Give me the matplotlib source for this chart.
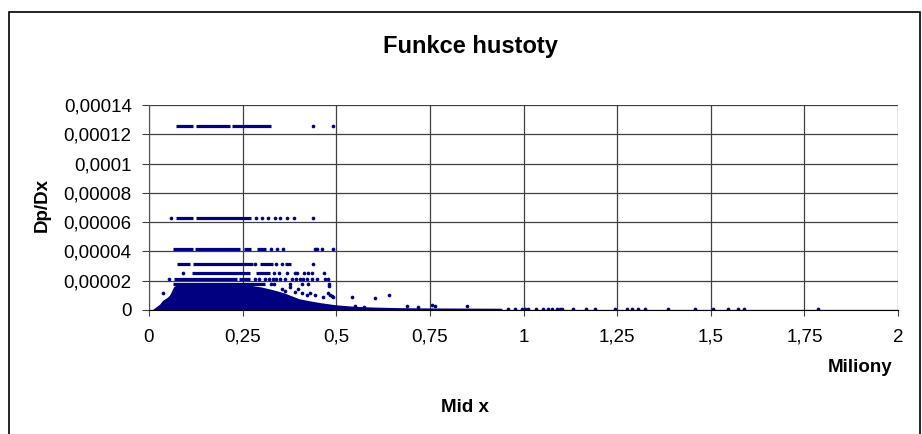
import matplotlib

matplotlib.use("Agg")

import matplotlib.pyplot as plt
from matplotlib.patches import Rectangle

plt.rcParams["font.family"] = ["Liberation Sans", "DejaVu Sans"]

NAVY = "#000080"

# dense part of the cloud: upper envelope (x in millions)
cloud_x = [0.012, 0.02, 0.03, 0.038, 0.05, 0.058, 0.068, 0.08, 0.12, 0.16, 0.2, 0.24,
           0.27, 0.3, 0.32, 0.34, 0.36, 0.38, 0.4, 0.43, 0.46, 0.5, 0.55, 0.6,
           0.65, 0.7, 0.75, 0.85, 0.94]
cloud_top = [0.0, 0.15e-5, 0.34e-5, 0.6e-5, 0.8e-5, 1.0e-5, 1.55e-5, 1.72e-5, 1.75e-5,
             1.75e-5, 1.75e-5, 1.7e-5, 1.62e-5, 1.5e-5, 1.38e-5, 1.25e-5, 1.1e-5,
             0.9e-5, 0.7e-5, 0.55e-5, 0.42e-5, 0.28e-5, 0.18e-5, 0.13e-5, 0.1e-5,
             0.08e-5, 0.07e-5, 0.06e-5, 0.05e-5]

# horizontal runs of packed points: level, start, end
band_y = [1.26e-4, 1.26e-4, 1.26e-4,
          6.3e-5, 6.3e-5,
          4.2e-5, 4.2e-5, 4.2e-5, 4.2e-5,
          3.15e-5, 3.15e-5, 3.15e-5, 3.15e-5,
          2.52e-5, 2.52e-5,
          2.1e-5, 2.1e-5,
          1.8e-5]
band_x0 = [0.071, 0.125, 0.222,
           0.072, 0.125,
           0.063, 0.123, 0.254, 0.288,
           0.076, 0.118, 0.296, 0.363,
           0.114, 0.286,
           0.068, 0.241,
           0.065]
band_x1 = [0.118, 0.216, 0.325,
           0.118, 0.272,
           0.118, 0.243, 0.272, 0.312,
           0.110, 0.277, 0.330, 0.378,
           0.270, 0.323,
           0.234, 0.270,
           0.310]

# single points on the same levels
lvl_126 = [0.439, 0.492]
lvl_63 = [0.059, 0.286, 0.301, 0.317, 0.336, 0.350, 0.368, 0.387, 0.439]
lvl_42 = [0.326, 0.341, 0.359, 0.443, 0.448, 0.461, 0.490]
lvl_315 = [0.283, 0.339, 0.354, 0.439]
lvl_252 = [0.090, 0.334, 0.348, 0.368, 0.390, 0.394, 0.415, 0.424, 0.436, 0.468]
lvl_21 = [0.054, 0.283, 0.295, 0.310, 0.321, 0.330, 0.339, 0.350, 0.363, 0.381,
          0.393, 0.403, 0.412, 0.421, 0.434, 0.448, 0.470, 0.479]
lvl_18 = [0.326, 0.335, 0.376, 0.408, 0.425, 0.481]

# loose points around the cloud
loose_x = [0.481, 0.038, 0.061, 0.354, 0.363, 0.376, 0.390, 0.399, 0.408, 0.421,
           0.430, 0.443, 0.465, 0.479, 0.488, 0.483, 0.492, 0.541, 0.603, 0.642,
           0.688, 0.719, 0.755, 0.764, 0.848, 0.55, 0.575]
loose_y = [1.64e-5, 1.14e-5, 1.02e-5, 1.41e-5, 1.32e-5, 1.59e-5, 1.25e-5, 1.41e-5,
           1.18e-5, 1.02e-5, 1.14e-5, 1.02e-5, 0.91e-5, 1.14e-5, 0.96e-5, 1.0e-5,
           0.9e-5, 0.91e-5, 0.8e-5, 1.02e-5, 0.27e-5, 0.2e-5, 0.34e-5, 0.3e-5,
           0.27e-5, 0.3e-5, 0.2e-5]

# sparse tail lying on the axis
tail_x = [0.959, 0.976, 0.995, 1.004, 1.013, 1.033, 1.053, 1.066, 1.075, 1.089,
          1.097, 1.104, 1.133, 1.167, 1.191, 1.244, 1.276, 1.289, 1.305, 1.324,
          1.385, 1.458, 1.507, 1.547, 1.572, 1.589, 1.787]
tail_level = 0.05e-5

x_ticks = [0, 0.25, 0.5, 0.75, 1, 1.25, 1.5, 1.75, 2]
x_labels = ["0", "0,25", "0,5", "0,75", "1", "1,25", "1,5", "1,75", "2"]
y_ticks = [0, 2e-5, 4e-5, 6e-5, 8e-5, 1e-4, 1.2e-4, 1.4e-4]
y_labels = ["0", "0,00002", "0,00004", "0,00006", "0,00008", "0,0001",
            "0,00012", "0,00014"]

fig = plt.figure(figsize=(9.22, 4.34), dpi=100)
ax = fig.add_axes([149 / 922, 124 / 434, 749 / 922, 205 / 434])

ax.fill_between(cloud_x, 0, cloud_top, color=NAVY, linewidth=1.5, edgecolor=NAVY)
ax.hlines(band_y, band_x0, band_x1, color=NAVY, linewidth=2.3)

ms = 7
for level, xs in [(1.26e-4, lvl_126), (6.3e-5, lvl_63), (4.2e-5, lvl_42),
                  (3.15e-5, lvl_315), (2.52e-5, lvl_252), (2.1e-5, lvl_21),
                  (1.8e-5, lvl_18)]:
    ax.scatter(xs, [level] * len(xs), s=ms, color=NAVY, linewidths=0)
ax.scatter(loose_x, loose_y, s=ms, color=NAVY, linewidths=0)
ax.scatter(tail_x, [tail_level] * len(tail_x), s=ms, color=NAVY, linewidths=0)

ax.set_xlim(0, 2)
ax.set_ylim(0, 1.4e-4)
ax.set_xticks(x_ticks)
ax.set_xticklabels(x_labels)
ax.set_yticks(y_ticks)
ax.set_yticklabels(y_labels)
ax.grid(True, color="#404040", linewidth=0.9)
ax.set_axisbelow(True)
for side in ("top", "right"):
    ax.spines[side].set_visible(False)
ax.spines["left"].set_color("#505050")
ax.spines["bottom"].set_color("black")
ax.tick_params(axis="x", labelsize=13.5, length=4.5, pad=9, color="#404040")
ax.tick_params(axis="y", labelsize=13.5, length=5, pad=7.5, color="#404040")

fig.text(470 / 922, 1 - 46 / 434, "Funkce hustoty", ha="center", va="center",
         fontsize=17, fontweight="bold")
fig.text(860 / 922, 1 - 368 / 434, "Miliony", ha="center", va="center",
         fontsize=13.5, fontweight="bold")
fig.text(465 / 922, 1 - 407 / 434, "Mid x", ha="center", va="center",
         fontsize=13.5, fontweight="bold")
fig.text(42 / 922, 1 - 205 / 434, "Dp/Dx", ha="center", va="center",
         rotation=90, fontsize=13.5, fontweight="bold")

fig.patches.append(Rectangle((9 / 922, -0.05), 911 / 922, 1.05 - 12 / 434,
                             transform=fig.transFigure, fill=False,
                             edgecolor="black", linewidth=1.2))

fig.savefig("out.png", dpi=100)
plt.close(fig)
